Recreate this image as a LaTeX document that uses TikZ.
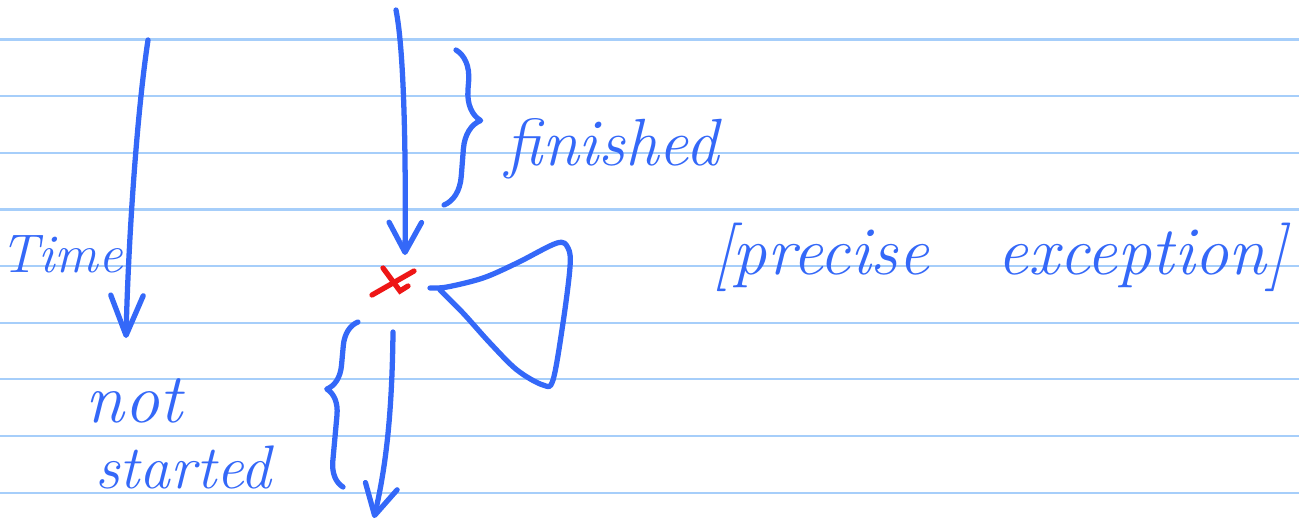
\documentclass[tikz,border=0pt]{standalone}
\usetikzlibrary{positioning,arrows.meta,calc,decorations.pathreplacing}
\definecolor{ink}{RGB}{52,104,248}
\definecolor{ruling}{RGB}{166,206,250}
\definecolor{slip}{RGB}{238,22,22}

\begin{document}
\begin{tikzpicture}[x=0.02cm,y=-0.02cm,
  pen/.style={ink, line width=3pt, line cap=round, line join=round},
  sig/.style={pen, -{Straight Barb[length=6mm,width=6.5mm,round]}},
  curly/.style={pen, decorate, decoration={brace,amplitude=6mm}},
  word/.style={ink, inner sep=0pt, anchor=base west},
  fs/.style={font=\fontsize{#1}{#1}\selectfont\itshape}]
\useasboundingbox (0,0) rectangle (1299,522);
% ruled paper
\foreach \k in {0,...,8}
  \draw[ruling, line width=1.2pt] (0,{39.5+56.65*\k}) -- (1299,{39.5+56.65*\k});
% end points of the three arrows
\coordinate (timetop) at (148,40);
\coordinate (timebot) at (126,338);
\coordinate (pasttop) at (396,10);
\coordinate (pastbot) at (405,255);
\coordinate (nexttop) at (393,332);
\coordinate (nextbot) at (374,518);
\coordinate (xmark) at (393,282);
% labels
\node[word, fs=31] (time) at (0,272) {Time};
\node[word, fs=38] (fin) at (505,165) {finished};
\node[word, fs=40] (not) at (85,422) {not};
\node[word, fs=35] (start) at (95,488) {started};
\node[word, fs=39] (prec) at (712,274) {[precise\quad exception]};
% arrows
\draw[sig, -{Straight Barb[length=8mm,width=6.5mm,round]}] (timetop) .. controls (136,120) and (128,250) .. (timebot);
\draw[sig] (pasttop) .. controls (404,50) and (406,150) .. (pastbot);
\draw[sig] (nexttop) .. controls (392,420) and (385,470) .. (nextbot);
% braces
\draw[curly, decoration={aspect=0.44}] (456,50) -- (444,205);
\draw[curly, decoration={aspect=0.58, amplitude=5mm}] (343,487) -- (358,322);
% faulting instruction
\draw[slip, line width=3pt, line cap=round] ($(xmark)+(-21,13)$) -- ($(xmark)+(21,-11)$);
\draw[slip, line width=3pt, line cap=round] ($(xmark)+(-10,-14)$) -- ($(xmark)+(7,9)$) -- ($(xmark)+(15,4)$);
% handler loop
\draw[pen] plot[smooth, tension=0.55] coordinates {(430,288) (447,287) (483,278) (517,263) (557,243)
  (568,248) (570,267) (563,323) (553,380) (543,385) (517,370) (490,343) (463,313) (440,290)};
\end{tikzpicture}
\end{document}
